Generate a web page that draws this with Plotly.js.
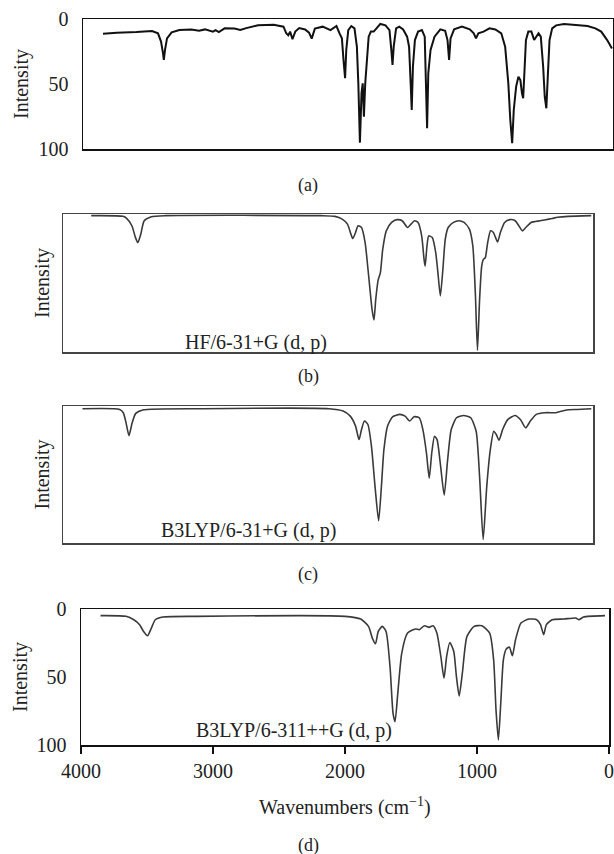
<!DOCTYPE html>
<html>
<head>
<meta charset="utf-8">
<script src="https://cdn.plot.ly/plotly-3.0.1.min.js"></script>
<style>html,body{margin:0;padding:0;background:#fff;}#chart{width:614px;height:854px;}</style>
</head>
<body>
<div id="chart"></div>
<script>
// ---- Data (wavenumber in cm^-1, intensity 0 = top, 100 = bottom) ----
const expWavenumber = [3849,3745,3597,3479,3434,3411,3396,3390,3381,3366,3331,3272,3183,3124,3079,3020,2999,2975,2931,2857,2813,2768,2679,2561,2487,2466,2451,2437,2419,2398,2368,2324,2294,2274,2250,2191,2132,2087,2064,2046,2034,2022,2013,1998,1975,1951,1933,1922,1910,1898,1889,1880,1870,1859,1844,1827,1806,1785,1756,1717,1687,1673,1664,1655,1637,1613,1584,1554,1539,1527,1519,1510,1495,1471,1442,1421,1412,1403,1394,1377,1347,1303,1267,1249,1237,1226,1199,1140,1081,1051,1034,1016,977,932,888,843,814,790,775,761,749,731,714,699,687,678,669,657,639,616,595,580,562,545,527,515,503,491,479,459,429,370,281,192,133,89,44,8];
const expIntensity = [11.3,10.5,10,9.2,11,17.4,26.4,31.5,23.8,14.9,10.3,8.5,8,9,8,9.7,8.5,10,7.2,7.4,8.5,7,4.9,4.4,5.9,11,12.6,9.7,15.6,9.7,7,8,10.5,15.1,7.4,5.9,8.5,5.4,11,14.9,31.5,45.6,23.8,8.5,5.4,7.2,21.3,49.5,95.1,57,49.5,75.1,49.5,31.5,13.6,9.7,9.7,7.2,3.8,4.9,8.5,23.8,35.4,21.3,7.2,5.9,8,13.6,21.3,49.5,70,36.7,16.2,9.7,8.5,13.6,49.5,84.1,41.8,23.8,13.6,8,9,16.2,31.5,14.9,8,5.9,8,11,14.9,11,9.7,7.2,8,11,21.3,49.5,77.7,95.6,70,52,44.4,47,57.2,61,41.8,16.2,9.7,9.7,16.2,13.6,11,13.6,36.7,60,68.7,41.8,16.2,7.2,4.9,3.8,4.4,5.4,7.2,9.7,16.2,22.6];

const hfWavenumber = [3787,3547,3520,3480,3453,3435,3413,3387,3333,3227,2053,1947,1893,1853,1827,1813,1792,1773,1747,1720,1693,1667,1653,1640,1621,1605,1587,1560,1520,1480,1440,1400,1373,1347,1320,1293,1275,1267,1253,1240,1213,1187,1168,1152,1133,1115,1093,1053,1013,973,933,907,888,872,856,840,827,813,795,773,752,720,699,667,627,587,560,533,507,467,400,333,307,267,187,13];
const hfIntensity = [1.2,1.7,3.2,8.5,17.1,20.7,14.6,4.9,2.0,1.2,1.2,1.7,3.7,7.3,14.6,17.8,13.4,8.5,9.8,20.7,45.1,69.5,76.8,62.2,47.6,42.7,25.6,12.2,6.1,4.1,4.9,9.8,7.3,4.9,6.1,15.9,32.9,37.8,23.2,15.9,17.1,28,45.1,59.3,40.2,18.3,9.8,6.1,4.9,6.1,11,23.2,57.3,98.8,62.2,37.8,32.9,31.7,20.7,12.2,13.4,20.2,13.4,6.1,4.1,4.9,8.5,12.2,9.8,6.1,4.9,3.7,3.2,2.4,1.7,1.2];

const b3Wavenumber = [3853,3572,3545,3524,3502,3478,3451,3398,2956,1993,1886,1832,1792,1766,1747,1725,1699,1672,1645,1618,1597,1578,1551,1511,1458,1418,1383,1351,1311,1284,1257,1236,1217,1196,1177,1150,1123,1097,1070,1030,976,923,882,856,829,802,775,749,730,709,682,642,588,548,508,473,428,361,280,254,200,120,13];
const b3Intensity = [2.0,2.5,4.9,12.3,21.6,12.3,5.4,2.9,2.0,2.0,3.7,7.4,14.7,24.5,17.2,11.0,13.5,29.4,58.8,83.8,58.8,31.9,14.7,7.8,6.1,7.4,11.0,7.8,8.6,17.2,34.3,52.7,34.3,22.1,24.5,44.1,65.0,39.2,17.2,8.6,6.9,8.6,18.4,51.5,97.5,58.8,31.9,18.4,20.8,25.0,17.2,9.8,6.9,9.8,15.9,11.0,6.1,4.9,4.9,4.2,2.9,2.5,2.0];

const b3plusWavenumber = [3852,3659,3600,3556,3526,3496,3467,3437,3378,3126,2000,1881,1822,1793,1769,1748,1718,1689,1659,1636,1621,1600,1570,1526,1467,1437,1399,1363,1333,1304,1274,1250,1230,1206,1176,1156,1135,1111,1076,1022,963,904,874,856,838,820,800,779,755,732,708,667,607,548,519,495,474,430,341,252,228,193,30];
const b3plusIntensity = [4.9,5.4,7.9,11.5,16.5,19.7,14.0,7.9,5.9,5.4,5.4,7.4,12.8,21.4,25.6,16.5,12.8,16.5,42.3,76.7,82.8,61.9,32.4,17.7,14.7,15.2,12.3,13.5,12.3,17.7,34.9,50.9,34.9,24.6,31.2,49.6,63.9,47.2,20.1,12.8,12.3,17.7,37.3,74.2,96.3,69.3,37.3,29.5,28.0,34.4,22.6,10.3,7.4,7.9,11.5,18.9,11.5,7.9,7.4,6.6,7.9,5.9,4.9];

const xTickVals = [4000,3000,2000,1000,0];
const xTickText = ['4000','3000','2000','1000','0'];
const yTickVals = [0,50,100];
const yTickText = ['0','50','100'];
const methodLabels = ['HF/6-31+G (d, p)','B3LYP/6-31+G (d, p)','B3LYP/6-311++G (d, p)'];
const panelLabels = ['(a)','(b)','(c)','(d)'];

// ---- Layout helpers ----
const W = 614, H = 854;
const FONT = '"Liberation Serif", "DejaVu Serif", serif';
const FS = 20;
const px = v => v / W;
const py = v => 1 - v / H;
// frames in pixel coordinates [left, right, top, bottom]
const frames = [[83,613,19,149],[63,593,214,352],[63,593,406,543],[81,609,609,745]];

const traces = [
  {x: expWavenumber, y: expIntensity, xaxis:'x', yaxis:'y', mode:'lines', line:{color:'#111', width:2, shape:'linear'}},
  {x: hfWavenumber, y: hfIntensity, xaxis:'x2', yaxis:'y2', mode:'lines', line:{color:'#3a3a3a', width:1.6, shape:'spline', smoothing:0.6}},
  {x: b3Wavenumber, y: b3Intensity, xaxis:'x3', yaxis:'y3', mode:'lines', line:{color:'#3a3a3a', width:1.6, shape:'spline', smoothing:0.6}},
  {x: b3plusWavenumber, y: b3plusIntensity, xaxis:'x4', yaxis:'y4', mode:'lines', line:{color:'#3a3a3a', width:1.6, shape:'spline', smoothing:0.6}}
];

const layout = {
  width: W, height: H,
  margin: {l:0, r:0, t:0, b:0},
  paper_bgcolor: '#fff', plot_bgcolor: '#fff',
  showlegend: false,
  font: {family: FONT, size: FS, color: '#222'},
  annotations: []
};

frames.forEach((f, i) => {
  const n = i === 0 ? '' : String(i + 1);
  const last = i === 3;
  const first = i === 0;
  const lineColor = (first || last) ? '#111' : '#444';
  const xa = {
    domain: [px(f[0]), px(f[1])],
    anchor: 'y' + n,
    range: [4000, 0],
    showgrid: false, zeroline: false,
    showline: true, mirror: true, linecolor: lineColor, linewidth: 1.5,
    showticklabels: last,
    ticks: last ? 'outside' : '',
    ticklen: 7, tickwidth: 2, tickcolor: '#111',
    tickfont: {family: FONT, size: FS, color: '#222'},
    fixedrange: true
  };
  if (last) { xa.tickvals = xTickVals; xa.ticktext = xTickText; }
  layout['xaxis' + n] = xa;
  const ya = {
    domain: [py(f[3]), py(f[2])],
    anchor: 'x' + n,
    range: [100, 0],
    showgrid: false, zeroline: false,
    showline: true, mirror: true, linecolor: lineColor, linewidth: 1.5,
    showticklabels: first || last,
    ticks: '',
    ticklabelstandoff: 9,
    tickfont: {family: FONT, size: FS, color: '#222'},
    fixedrange: true
  };
  if (first || last) { ya.tickvals = yTickVals; ya.ticktext = yTickText; }
  layout['yaxis' + n] = ya;
});

// "Intensity" titles
const intensityX = [21, 42, 42, 20];
frames.forEach((f, i) => {
  layout.annotations.push({
    xref:'paper', yref:'paper', x: px(intensityX[i]), y: py((f[2]+f[3])/2),
    text:'Intensity', textangle:-90, showarrow:false,
    xanchor:'center', yanchor:'middle',
    font:{family: FONT, size: FS, color:'#222'}
  });
});

// method labels inside panels b, c, d
const methodPos = [[256,342],[248,530],[294,730]];
methodLabels.forEach((t, i) => {
  layout.annotations.push({
    xref:'paper', yref:'paper', x: px(methodPos[i][0]), y: py(methodPos[i][1]),
    text: t, showarrow:false, xanchor:'center', yanchor:'middle',
    font:{family: FONT, size: FS, color:'#222'}
  });
});

// panel labels
const panelY = [185, 377, 574, 845];
panelLabels.forEach((t, i) => {
  layout.annotations.push({
    xref:'paper', yref:'paper', x: px(308), y: py(panelY[i]),
    text: t, showarrow:false, xanchor:'center', yanchor:'middle',
    font:{family: FONT, size: 18, color:'#222'}
  });
});

// x-axis title
layout.annotations.push({
  xref:'paper', yref:'paper', x: px(345), y: py(806),
  text:'Wavenumbers (cm<sup>\u22121</sup>)', showarrow:false,
  xanchor:'center', yanchor:'middle',
  font:{family: FONT, size: FS, color:'#222'}
});

Plotly.newPlot('chart', traces, layout, {displayModeBar:false, staticPlot:true});
</script>
</body>
</html>
